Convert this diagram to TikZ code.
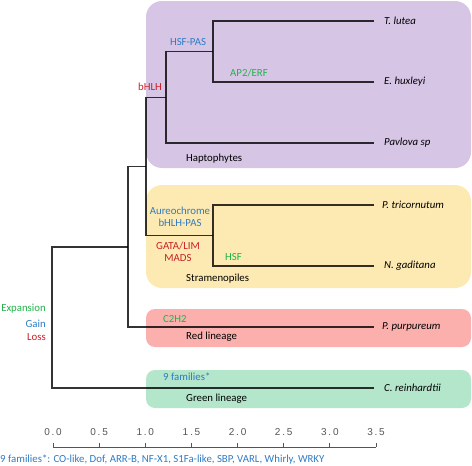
\documentclass[tikz,border=0pt]{standalone}
\usepackage{fontspec}
\setmainfont{Carlito}[Scale=1.08]
\newfontfamily\axisfont[LetterSpace=18]{Liberation Sans}
\usetikzlibrary{positioning,calc}
\definecolor{haptobg}{HTML}{D6C5E5}
\definecolor{stramenobg}{HTML}{FDEAB2}
\definecolor{redbg}{HTML}{FBB0AE}
\definecolor{greenbg}{HTML}{B3E6CB}
\definecolor{expcol}{HTML}{22B24C}
\definecolor{gaincol}{HTML}{2E7BC4}
\definecolor{losscol}{HTML}{C8202A}
\definecolor{axiscol}{HTML}{555555}
\tikzset{
  clade/.style={rounded corners=#1},
  clade/.default=16pt,
  branch/.style={draw=black, opacity=.8, line width=1.1pt},
  leaf/.style={anchor=west, inner xsep=10pt, inner ysep=0pt, font=\itshape},
  group/.style={anchor=west, inner sep=0pt},
  expansion/.style={text=expcol, inner sep=0pt},
  gain/.style={text=gaincol, inner sep=0pt},
  loss/.style={text=losscol, inner sep=0pt},
  legend/.style={anchor=east},
  axislbl/.style={text=axiscol, font=\axisfont, inner sep=0pt}
}
\begin{document}
\begin{tikzpicture}[x=1pt, y=-1pt]
\useasboundingbox (0,0) rectangle (472,466);
% lineage boxes
\fill[haptobg, clade] (146,1) rectangle (471,168);
\fill[stramenobg, clade] (146,185) rectangle (471,288);
\fill[redbg, clade=9pt] (146,309) rectangle (471,347);
\fill[greenbg, clade=9pt] (146,370) rectangle (471,408);
% group names
\node[group] (hapto) at (186,159) {Haptophytes};
\node[group] (strameno) at (186,279) {Stramenopiles};
\node[group] (redlin) at (186,337) {Red lineage};
\node[group] (greenlin) at (186,399) {Green lineage};
% inner nodes of the tree
\coordinate (hsfpas) at (213,51.5);
\coordinate (bhlh) at (166,97.5);
\coordinate (chromal) at (146,166.5);
\coordinate (strnode) at (213,235.5);
\coordinate (rednode) at (128,247);
\coordinate (root) at (52,317.5);
% leaves
\node[leaf] (tlutea) at (374,21) {T. lutea};
\node[leaf] (ehux) at (374,82) {E. huxleyi};
\node[leaf] (pavlova) at (374,143) {Pavlova sp};
\node[leaf, inner xsep=8pt] (ptric) at (374,205) {P. tricornutum};
\node[leaf] (ngad) at (374,266) {N. gaditana};
\node[leaf, inner xsep=8pt] (ppurp) at (374,327) {P. purpureum};
\node[leaf] (creinh) at (374,388) {C. reinhardtii};
% branches
\draw[branch] (tlutea.west) -| (hsfpas) |- (ehux.west);
\draw[branch] (hsfpas) -| (bhlh) |- (pavlova.west);
\draw[branch] (bhlh) -| (chromal) |- (strnode);
\draw[branch] (ptric.west) -| (strnode) |- (ngad.west);
\draw[branch] (chromal) -| (rednode) |- (ppurp.west);
\draw[branch] (rednode) -| (root) |- (creinh.west);
% gains, losses, expansions
\node[gain] (lhsfpas) at (188,42) {HSF-PAS};
\node[loss] (lbhlh) at (150,87) {bHLH};
\node[expansion] (lap2) at (249,73) {AP2/ERF};
\node[gain, align=center] (laureo) at (180,216.5) {Aureochrome\\bHLH-PAS};
\node[loss, align=center] (lgata) at (178,251.5) {GATA/LIM\\MADS};
\node[expansion, anchor=west] (lhsf) at (225,257) {HSF};
\node[expansion, anchor=west] (lc2h2) at (163,319) {C2H2};
\node[gain, anchor=west] (lnine) at (163,377) {9 families*};
% legend
\node[expansion, legend] (lexp) at (46,309) {Expansion};
\node[gain, legend] (lgain) at (46,324) {Gain};
\node[loss, legend] (lloss) at (46,337) {Loss};
% scale
\coordinate (ax0) at (53,447);
\coordinate (ax1) at (376,447);
\draw[axiscol, line width=.8pt] (ax0) -- (ax1);
\foreach \v [count=\i from 0] in {0.0,0.5,1.0,1.5,2.0,2.5,3.0,3.5} {
  \draw[axiscol, line width=.8pt] ($(ax0)!\i/7!(ax1)$) coordinate (tick\i) -- ++(0,-4);
  \node[axislbl] (tl\i) at ([yshift=15pt]tick\i) {\v};
}
\node[gain, anchor=west] (famlist) at (0,460) {9 families*: CO-like, Dof, ARR-B, NF-X1, S1Fa-like, SBP, VARL, Whirly, WRKY};
\end{tikzpicture}
\end{document}
